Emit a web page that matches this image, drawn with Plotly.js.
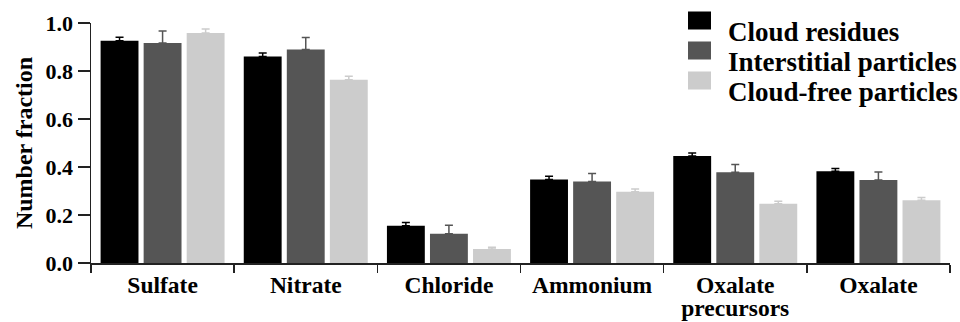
<!DOCTYPE html>
<html>
<head>
<meta charset="utf-8">
<script src="https://cdn.plot.ly/plotly-3.0.1.min.js"></script>
<style>html,body{margin:0;padding:0;background:#fff;}#chart{width:960px;height:322px;}</style>
</head>
<body>
<div id="chart"></div>
<script>
const categories = ["Sulfate", "Nitrate", "Chloride", "Ammonium", "Oxalate<br>precursors", "Oxalate"];
const seriesNames = ["Cloud residues", "Interstitial particles", "Cloud-free particles"];
const cloudResidues = [0.926, 0.860, 0.155, 0.348, 0.446, 0.382];
const cloudResiduesErr = [0.015, 0.015, 0.014, 0.013, 0.012, 0.012];
const interstitial = [0.917, 0.890, 0.122, 0.340, 0.378, 0.346];
const interstitialErr = [0.050, 0.050, 0.035, 0.033, 0.032, 0.033];
const cloudFree = [0.958, 0.764, 0.058, 0.297, 0.247, 0.261];
const cloudFreeErr = [0.017, 0.014, 0.008, 0.011, 0.010, 0.012];
const colors = ["#000000", "#555555", "#cccccc"];
const yTicks = [0, 0.2, 0.4, 0.6, 0.8, 1.0];
const yTickText = ["0.0", "0.2", "0.4", "0.6", "0.8", "1.0"];

const FONT = "Liberation Serif";
const values = [cloudResidues, interstitial, cloudFree];
const errs = [cloudResiduesErr, interstitialErr, cloudFreeErr];

const data = values.map((v, i) => ({
  type: "bar",
  name: seriesNames[i],
  x: categories,
  y: v,
  marker: {color: colors[i], line: {width: 0}},
  error_y: {type: "data", array: errs[i], arrayminus: errs[i].map(() => 0), symmetric: false,
            color: colors[i], thickness: 1.5, width: 4},
  hoverinfo: "x+y+name"
}));

const layout = {
  width: 960, height: 322,
  margin: {l: 91, r: 10, t: 23, b: 59},
  paper_bgcolor: "#fff", plot_bgcolor: "#fff",
  barmode: "group", bargap: 0.098, bargroupgap: 0.12,
  font: {family: FONT, weight: "bold", color: "#000"},
  xaxis: {
    type: "category",
    tickson: "boundaries",
    tickangle: 0,
    ticks: "outside", ticklen: 8, tickwidth: 1.5, tickcolor: "#222",
    showline: true, linecolor: "#222", linewidth: 1.5,
    showgrid: false, zeroline: false,
    tickfont: {family: FONT, size: 23.5, weight: "bold", color: "#000"},
    automargin: false
  },
  yaxis: {
    range: [0, 1.0],
    tickvals: yTicks, ticktext: yTickText,
    ticks: "outside", ticklen: 12, tickwidth: 1.5, tickcolor: "#222",
    showline: true, linecolor: "#222", linewidth: 1.5,
    showgrid: false, zeroline: false,
    tickfont: {family: FONT, size: 22, weight: "bold", color: "#000"},
    title: {text: "Number fraction", font: {family: FONT, size: 24, weight: "bold", color: "#000"}, standoff: 6},
    automargin: false
  },
  showlegend: true,
  legend: {
    x: 0.5, xanchor: "left", y: 1.0, yanchor: "top",
    bgcolor: "rgba(0,0,0,0)",
    font: {family: FONT, size: 27, weight: "bold", color: "#000"},
    tracegroupgap: 0, itemsizing: "constant"
  }
};

Plotly.newPlot("chart", data, layout, {displayModeBar: false, staticPlot: true}).then(() => {
  const gd = document.getElementById("chart");
  gd.querySelectorAll(".legendpoints path").forEach(p => {
    p.setAttribute("d", "M3,-1H-23V-19H3Z");
    p.style.strokeWidth = "0px";
  });
  // tighten legend row spacing to match the reference
  const items = gd.querySelectorAll(".legend .traces");
  let y0 = null;
  items.forEach((g, i) => {
    const m = /translate\(([-\d.]+),\s*([-\d.]+)\)/.exec(g.getAttribute("transform") || "");
    if (!m) return;
    if (y0 === null) y0 = parseFloat(m[2]);
    g.setAttribute("transform", "translate(" + m[1] + "," + (y0 + i * 30) + ")");
  });
  // place the legend at the top-right, as in the reference
  const leg = gd.querySelector("g.legend");
  const firstText = gd.querySelector(".legend .legendtext");
  if (leg && firstText) {
    const m = /translate\(([-\d.]+),\s*([-\d.]+)\)/.exec(leg.getAttribute("transform") || "");
    const r = firstText.getBoundingClientRect();
    const host = gd.getBoundingClientRect();
    if (m) {
      const dx = 728 - (r.left - host.left);
      const dy = 32 - ((r.top + r.bottom) / 2 - host.top);
      leg.setAttribute("transform", "translate(" + (parseFloat(m[1]) + dx) + "," + (parseFloat(m[2]) + dy) + ")");
    }
  }
  // tighter line spacing for two-line category labels
  gd.querySelectorAll(".xtick text tspan.line").forEach(t => {
    if (t.getAttribute("dy") && t.getAttribute("dy") !== "0em") t.setAttribute("dy", "1.0em");
  });
});
</script>
</body>
</html>
